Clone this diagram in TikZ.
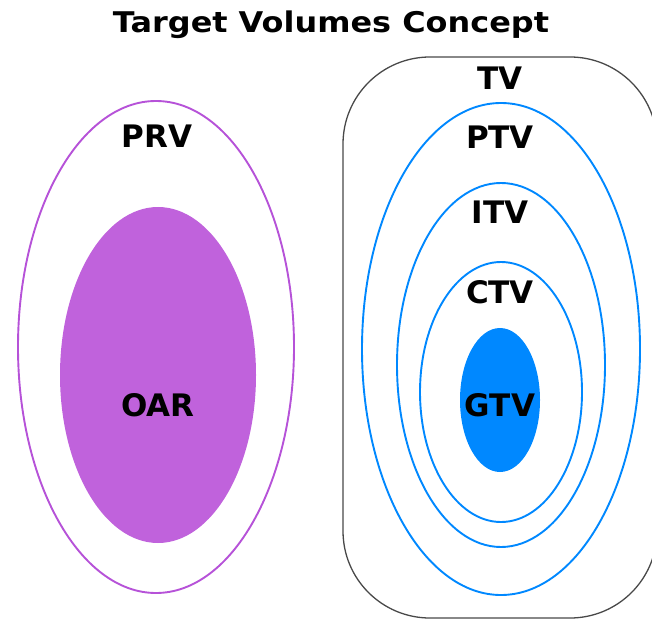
\documentclass[tikz,border=0pt]{standalone}
\usepackage{fontspec}
\setmainfont{DejaVu Sans}
\newfontfamily\titlefont[FakeStretch=1.12]{DejaVu Sans}
\definecolor{oarfill}{RGB}{192,98,220}
\definecolor{oarline}{RGB}{182,82,216}
\definecolor{tvblue}{RGB}{0,136,255}
\definecolor{boxgray}{RGB}{72,72,72}
\tikzset{
  lbl/.style={font=\fontsize{31}{31}\selectfont\bfseries, inner sep=0pt},
  ring/.style={draw=tvblue, line width=1.9pt},
}
\begin{document}
\begin{tikzpicture}[x=1pt,y=-1pt]
   \useasboundingbox (0,0) rectangle (652,620);
   \clip (0,0) rectangle (652,620);

   % タイトル
   \node[font=\titlefont\fontsize{28.5}{28.5}\selectfont\bfseries, inner sep=0pt] (title) at (331,25) {Target Volumes Concept};

   % 左側
   \draw[draw=oarline, line width=1.9pt] (156,347) ellipse [x radius=138, y radius=246];
   \fill[oarfill] (158,375) ellipse [x radius=98, y radius=168];
   \node[lbl] (prv) at (157,136) {PRV};
   \node[lbl] (oar) at (158,405) {OAR};

   % 右側
   \draw[draw=boxgray, line width=1.3pt, rounded corners=87pt] (343,57) rectangle (657,618);
   \draw[ring] (501,349) ellipse [x radius=139, y radius=246];
   \draw[ring] (501,365) ellipse [x radius=104, y radius=182];
   \draw[ring] (501,392) ellipse [x radius=81, y radius=130];
   \fill[tvblue] (500,400) ellipse [x radius=40, y radius=72];
   \node[lbl] (tv) at (500,78) {TV};
   \node[lbl] (ptv) at (500,137) {PTV};
   \node[lbl] (itv) at (500,212) {ITV};
   \node[lbl] (ctv) at (500,292) {CTV};
   \node[lbl] (gtv) at (500,405) {GTV};
\end{tikzpicture}
\end{document}
